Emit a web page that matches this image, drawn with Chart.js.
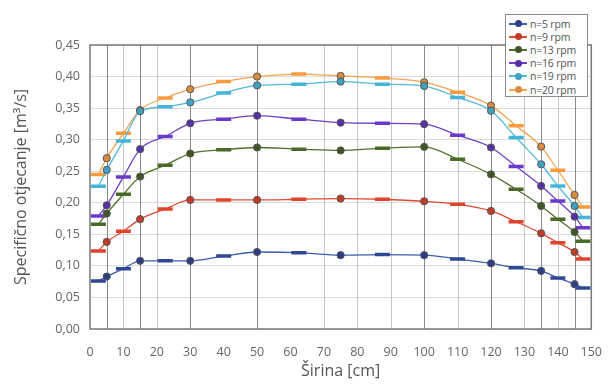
<!DOCTYPE html>
<html>
<head>
<meta charset="utf-8">
<script src="https://cdn.jsdelivr.net/npm/chart.js@4.4.1/dist/chart.umd.min.js"></script>
<style>
  body { margin: 0; background: #fff; }
  #wrap { position: relative; width: 610px; height: 385px; }
  #legend {
    position: absolute; left: 505px; top: 14px; width: 83px; height: 83px;
    box-sizing: border-box; border: 1px solid #8c8c8c; background: #fff;
    padding-top: 2px; font: 10.5px "Open Sans", sans-serif; color: #555;
  }
  .row { display: flex; align-items: center; height: 13.2px; letter-spacing: -0.2px; }
  .sw { position: relative; width: 18px; height: 2px; margin: 0 3px 0 3px; flex: none; }
  .sw i { position: absolute; left: 5.5px; top: -2.5px; width: 7px; height: 7px; border-radius: 50%; }
</style>
</head>
<body>
<div id="wrap">
  <canvas id="chart" width="610" height="385"></canvas>
  <div id="legend"></div>
</div>
<script>
// x positions across the channel width (cm): circles = measured, dashes = midpoints
const widthCm = [2.5, 5, 10, 15, 22.5, 30, 40, 50, 62.5, 75, 87.5, 100, 110, 120, 127.5, 135, 140, 145, 147.5];
const measuredCm = [5, 15, 30, 50, 75, 100, 120, 135, 145];
const gridMajorCm = [5, 15, 30, 50, 100, 120, 135, 145];
const gridMinorCm = [10, 20, 70, 80, 90, 110, 130, 140];
const xTicks = [0, 10, 20, 30, 40, 50, 60, 70, 80, 90, 100, 110, 120, 130, 140, 150];
const yTicks = [0, 0.05, 0.1, 0.15, 0.2, 0.25, 0.3, 0.35, 0.4, 0.45];

const seriesLabels = ["n=5 rpm", "n=9 rpm", "n=13 rpm", "n=16 rpm", "n=19 rpm", "n=20 rpm"];
const seriesColors = ["#3d5bb0", "#dc4a33", "#52702d", "#6c3fc6", "#52b8d8", "#f4a451"];
const markerColors = ["#2c3f86", "#c23b27", "#3f5724", "#5530a6", "#3fa2c2", "#d98c3e"];
const dashColors = ["#2f4896", "#e0442c", "#4a6a28", "#6a38cc", "#45b4da", "#f79b3e"];

const q5 = [0.076, 0.083, 0.0955, 0.108, 0.108, 0.108, 0.1155, 0.122, 0.121, 0.117, 0.118, 0.117, 0.111, 0.104, 0.097, 0.092, 0.081, 0.071, 0.065];
const q9 = [0.1235, 0.138, 0.155, 0.174, 0.19, 0.2045, 0.2045, 0.2045, 0.2056, 0.2067, 0.2056, 0.2024, 0.1976, 0.187, 0.17, 0.1516, 0.1368, 0.122, 0.111];
const q13 = [0.166, 0.183, 0.2135, 0.2415, 0.2595, 0.278, 0.284, 0.2876, 0.285, 0.283, 0.2865, 0.2886, 0.269, 0.245, 0.2214, 0.195, 0.1738, 0.1537, 0.139];
const q16 = [0.179, 0.196, 0.241, 0.285, 0.305, 0.326, 0.3325, 0.338, 0.3325, 0.327, 0.326, 0.3246, 0.307, 0.2876, 0.2575, 0.2267, 0.2029, 0.178, 0.1606];
const q19 = [0.226, 0.252, 0.298, 0.345, 0.352, 0.359, 0.374, 0.386, 0.388, 0.392, 0.388, 0.385, 0.367, 0.3457, 0.3035, 0.261, 0.2267, 0.195, 0.1765];
const q20 = [0.245, 0.2706, 0.31, 0.347, 0.366, 0.38, 0.392, 0.4, 0.404, 0.401, 0.3976, 0.391, 0.375, 0.354, 0.322, 0.289, 0.2516, 0.2124, 0.1933];

const series = [q5, q9, q13, q16, q19, q20];
const isMeasured = widthCm.map((x) => measuredCm.includes(x));

const frame = {
  id: "frame",
  beforeDatasetsDraw(chart) {
    const { ctx, chartArea: area, scales } = chart;
    const drawLines = (list, color) => {
      ctx.strokeStyle = color;
      list.forEach((value) => {
        const px = Math.round(scales.x.getPixelForValue(value)) + 0.5;
        ctx.beginPath();
        ctx.moveTo(px, area.top);
        ctx.lineTo(px, area.bottom);
        ctx.stroke();
      });
    };
    ctx.save();
    ctx.lineWidth = 1;
    drawLines(gridMinorCm, "#c6c6c6");
    drawLines(gridMajorCm, "#8a8a8a");
    ctx.restore();
  },
  afterDraw(chart) {
    const { ctx, chartArea: area } = chart;
    ctx.save();
    ctx.strokeStyle = "#7a7a7a";
    ctx.lineWidth = 1.5;
    ctx.strokeRect(area.left, area.top, area.right - area.left, area.bottom - area.top);
    ctx.restore();
  },
};

new Chart(document.querySelector("#chart"), {
  type: "line",
  data: {
    datasets: series.map((values, i) => ({
      label: seriesLabels[i],
      data: widthCm.map((x, j) => ({ x, y: values[j] })),
      borderColor: seriesColors[i],
      borderWidth: 1.3,
      cubicInterpolationMode: "monotone",
      pointStyle: isMeasured.map((m) => (m ? "circle" : "line")),
      pointRadius: isMeasured.map((m) => (m ? 3.6 : 7.5)),
      pointBorderWidth: isMeasured.map((m) => (m ? 1 : 3.5)),
      pointBackgroundColor: markerColors[i],
      pointBorderColor: isMeasured.map((m) => (m ? "#555" : dashColors[i])),
    })),
  },
  options: {
    responsive: false,
    animation: false,
    events: [],
    layout: { padding: { top: 45, right: 4, left: 0, bottom: 0 } },
    plugins: { legend: { display: false }, tooltip: { enabled: false } },
    scales: {
      x: {
        type: "linear",
        min: 0,
        max: 150,
        afterBuildTicks: (axis) => { axis.ticks = xTicks.map((value) => ({ value })); },
        afterFit: (axis) => { axis.height = 56; },
        grid: { display: false },
        border: { display: false },
        ticks: { padding: 8, color: "#666", font: { family: "Open Sans", size: 12.5 } },
        title: {
          display: true,
          text: "Širina [cm]",
          color: "#555",
          padding: { top: 0, bottom: 3.5 },
          font: { family: "Open Sans", size: 16 },
        },
      },
      y: {
        min: 0,
        max: 0.45,
        afterBuildTicks: (axis) => { axis.ticks = yTicks.map((value) => ({ value })); },
        afterFit: (axis) => { axis.width = 90; },
        grid: { color: "#dcdcdc", drawTicks: false },
        border: { display: false },
        ticks: {
          padding: 10,
          color: "#666",
          font: { family: "Open Sans", size: 12.5 },
          callback: (value) => value.toFixed(2).replace(".", ","),
        },
        title: {
          display: true,
          text: "Specifično otjecanje [m³/s]",
          color: "#555",
          padding: { top: 12, bottom: 0 },
          font: { family: "Open Sans", size: 16 },
        },
      },
    },
  },
  plugins: [frame],
});

document.querySelector("#legend").innerHTML = seriesLabels
  .map(
    (label, i) => `
      <div class="row">
        <span class="sw" style="background:${seriesColors[i]}"><i style="background:${markerColors[i]}"></i></span>${label}
      </div>`
  )
  .join("");
</script>
</body>
</html>
